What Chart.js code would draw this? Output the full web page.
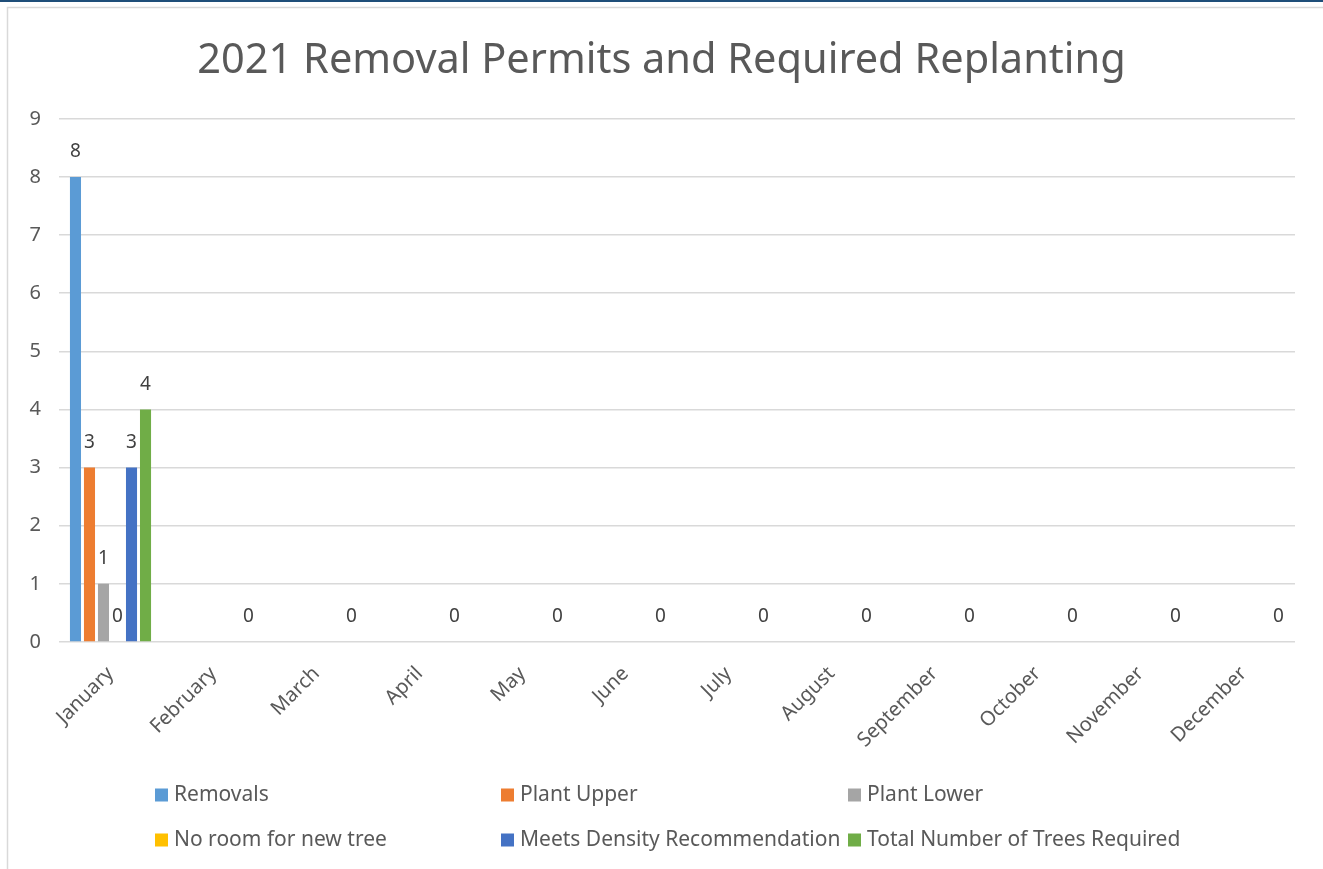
<!DOCTYPE html>
<html>
<head>
<meta charset="utf-8">
<script src="https://cdn.jsdelivr.net/npm/chart.js@4/dist/chart.umd.min.js"></script>
<style>
  html, body { margin: 0; padding: 0; background: #fff; }
  #wrap { width: 1323px; height: 869px; position: relative; }
</style>
</head>
<body>
<div id="wrap"><canvas id="permitChart" width="1323" height="869"></canvas></div>
<script>
// Chart data
const months = ['January', 'February', 'March', 'April', 'May', 'June', 'July',
                'August', 'September', 'October', 'November', 'December'];
const removals = [8, null, null, null, null, null, null, null, null, null, null, null];
const plantUpper = [3, null, null, null, null, null, null, null, null, null, null, null];
const plantLower = [1, null, null, null, null, null, null, null, null, null, null, null];
const noRoom = [0, null, null, null, null, null, null, null, null, null, null, null];
const meetsDensity = [3, null, null, null, null, null, null, null, null, null, null, null];
const totalRequired = [4, 0, 0, 0, 0, 0, 0, 0, 0, 0, 0, 0];
const yTicks = [0, 1, 2, 3, 4, 5, 6, 7, 8, 9];

const seriesNames = ['Removals', 'Plant Upper', 'Plant Lower', 'No room for new tree',
                     'Meets Density Recommendation', 'Total Number of Trees Required'];
const seriesColors = ['#5b9bd5', '#ed7d31', '#a5a5a5', '#ffc000', '#4472c4', '#70ad47'];
const seriesData = [removals, plantUpper, plantLower, noRoom, meetsDensity, totalRequired];

const FONT = "'Noto Sans', 'Open Sans', sans-serif";

// Outer frame like the exported sheet
const framePlugin = {
    id: 'frame',
    beforeDraw(chart) {
        const ctx = chart.ctx;
        ctx.save();
        ctx.fillStyle = '#fff';
        ctx.fillRect(0, 0, chart.width, chart.height);
        ctx.fillStyle = '#1f4e79';
        ctx.fillRect(0, 0, chart.width, 2);
        ctx.strokeStyle = '#d9d9d9';
        ctx.lineWidth = 1.5;
        ctx.strokeRect(7.5, 7.5, chart.width - 2, chart.height + 10);
        ctx.restore();
    }
};

// Value labels above each bar (skip nulls)
const valueLabels = {
    id: 'valueLabels',
    afterDatasetsDraw(chart) {
        const ctx = chart.ctx;
        ctx.save();
        ctx.font = '19px ' + FONT;
        ctx.fillStyle = '#404040';
        ctx.textAlign = 'center';
        ctx.textBaseline = 'middle';
        chart.data.datasets.forEach((ds, i) => {
            const meta = chart.getDatasetMeta(i);
            meta.data.forEach((bar, j) => {
                const v = ds.data[j];
                if (v === null || v === undefined) return;
                ctx.fillText(String(v), bar.x, bar.y - 25);
            });
        });
        ctx.restore();
    }
};

// Legend in a fixed 3-column grid
const gridLegend = {
    id: 'gridLegend',
    afterDraw(chart) {
        const ctx = chart.ctx;
        const cols = [155, 501, 848];
        const rows = [795, 840];
        ctx.save();
        ctx.font = '21px ' + FONT;
        ctx.textBaseline = 'middle';
        ctx.textAlign = 'left';
        chart.data.datasets.forEach((ds, i) => {
            const x = cols[i % 3];
            const y = rows[Math.floor(i / 3)];
            ctx.fillStyle = ds.backgroundColor;
            ctx.fillRect(x, y - 6.5, 13, 13);
            ctx.fillStyle = '#595959';
            ctx.fillText(ds.label, x + 19, y);
        });
        ctx.restore();
    }
};

const ctx = document.getElementById('permitChart').getContext('2d');
new Chart(ctx, {
    type: 'bar',
    data: {
        labels: months,
        datasets: seriesNames.map((name, i) => ({
            label: name,
            data: seriesData[i],
            backgroundColor: seriesColors[i],
            categoryPercentage: 0.816,
            barPercentage: 0.79
        }))
    },
    options: {
        responsive: false,
        animation: false,
        layout: { padding: { left: 28, right: 28, top: 0, bottom: 100 } },
        scales: {
            y: {
                min: 0,
                max: 9,
                afterBuildTicks(scale) { scale.ticks = yTicks.map(v => ({ value: v })); },
                afterFit(scale) { scale.width = 31; },
                grid: { color: '#d9d9d9', lineWidth: 1.5, drawTicks: false },
                border: { display: false },
                ticks: {
                    color: '#595959',
                    padding: 18,
                    font: { size: 20, family: FONT }
                }
            },
            x: {
                afterFit(scale) { scale.height = 127; },
                grid: { display: false },
                border: { display: false },
                ticks: {
                    color: '#595959',
                    minRotation: 45,
                    maxRotation: 45,
                    autoSkip: false,
                    padding: 12,
                    font: { size: 20, family: FONT }
                }
            }
        },
        plugins: {
            legend: { display: false },
            tooltip: { enabled: false },
            title: {
                display: true,
                text: '2021 Removal Permits and Required Replanting',
                color: '#595959',
                font: { size: 41.5, weight: 'normal', family: FONT },
                padding: { top: 36, bottom: 33 }
            }
        }
    },
    plugins: [framePlugin, valueLabels, gridLegend]
});
</script>
</body>
</html>
